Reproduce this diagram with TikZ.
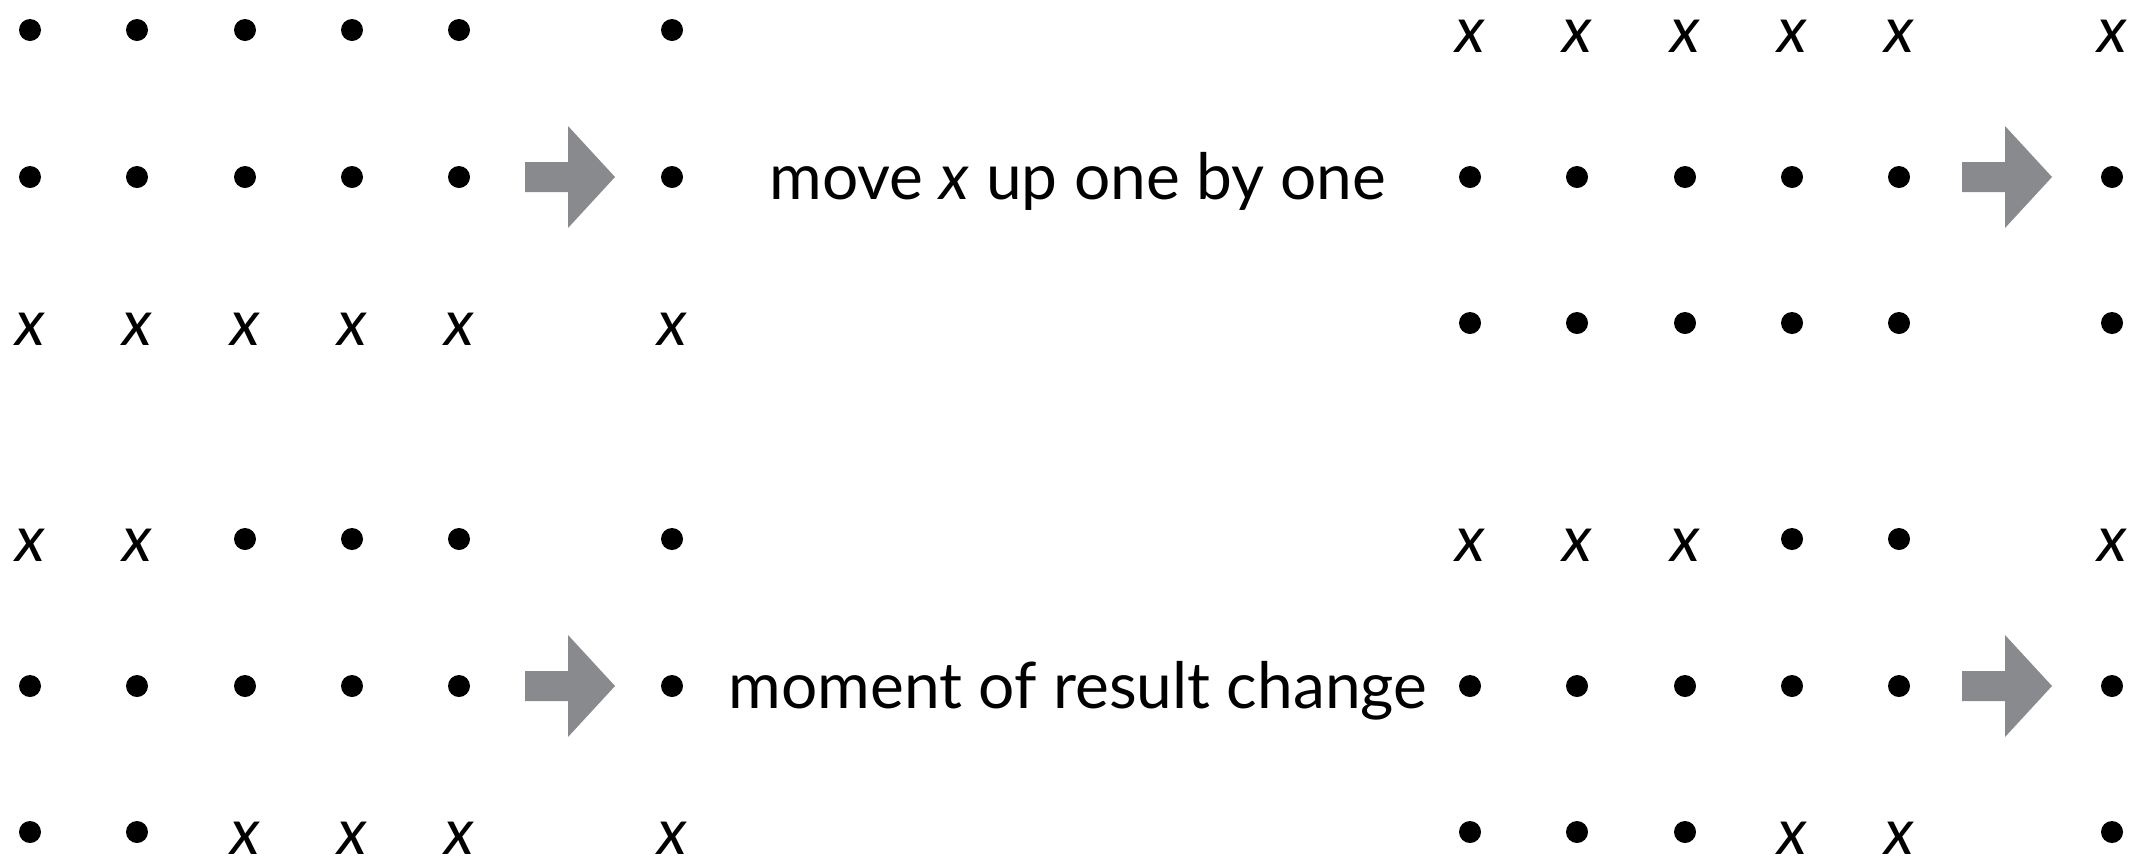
\documentclass[tikz,border=0pt]{standalone}
\usepackage{fontspec}
\setmainfont{Lato}
\definecolor{arrowgray}{RGB}{136,138,142}
\tikzset{
  dotn/.style={circle, fill=black, inner sep=0pt, minimum size=11pt},
  xn/.style={inner sep=0pt, anchor=base, font=\fontsize{32}{38}\selectfont\itshape},
  lbl/.style={inner sep=0pt, anchor=base, font=\fontsize{32}{38}\selectfont},
  blockarrow/.pic={\fill[arrowgray] (0,-15) -- (43,-15) -- (43,-51) -- (90,0) -- (43,51) -- (43,15) -- (0,15) -- cycle;}
}
\newcommand\cellrow[4]{%
  \foreach \t [count=\i] in {#4} {%
    \pgfmathsetmacro\cx{{30,137,245,352,459,672}[\i-1]+#3}%
    \pgfmathsetmacro\cy{#2-22}%
    \if d\t
      \node[dotn] (#1-\i) at (\cx,\cy) {};
    \else
      \node[xn] (#1-\i) at (\cx,#2) {x};
    \fi
  }%
}
\begin{document}
\begin{tikzpicture}[x=0.5pt, y=-0.5pt]
\useasboundingbox (0,0) rectangle (2138,858);
\fill[white] (0,0) rectangle (2138,858);
% top-left block
\cellrow{a1}{52}{0}{d,d,d,d,d,d}
\cellrow{a2}{199}{0}{d,d,d,d,d,d}
\cellrow{a3}{345}{0}{x,x,x,x,x,x}
% top-right block
\cellrow{b1}{52}{1440}{x,x,x,x,x,x}
\cellrow{b2}{199}{1440}{d,d,d,d,d,d}
\cellrow{b3}{345}{1440}{d,d,d,d,d,d}
% bottom-left block
\cellrow{c1}{561}{0}{x,x,d,d,d,d}
\cellrow{c2}{708}{0}{d,d,d,d,d,d}
\cellrow{c3}{854}{0}{d,d,x,x,x,x}
% bottom-right block
\cellrow{e1}{561}{1440}{x,x,x,d,d,x}
\cellrow{e2}{708}{1440}{d,d,d,d,d,d}
\cellrow{e3}{854}{1440}{d,d,d,x,x,d}
% arrows
\pic at (525,177) {blockarrow};
\pic at (1962,177) {blockarrow};
\pic at (525,686) {blockarrow};
\pic at (1962,686) {blockarrow};
% labels
\node[lbl] (t1) at (1078,199) {move \textit{x} up one by one};
\node[lbl] (t2) at (1078,708) {moment of result change};
\end{tikzpicture}
\end{document}
